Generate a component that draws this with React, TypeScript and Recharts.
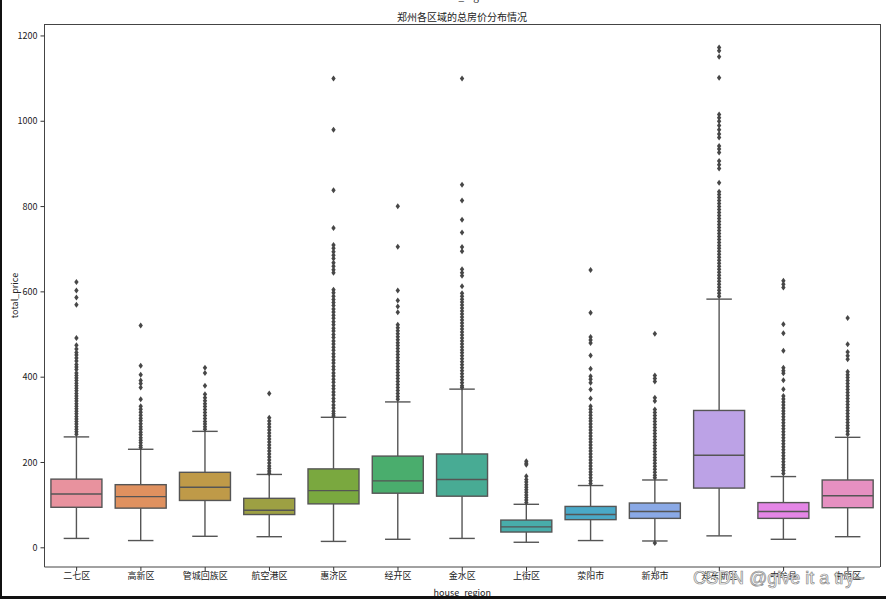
import { ComposedChart, Bar, XAxis, YAxis } from 'recharts';

const REGIONS = ['二七区', '高新区', '管城回族区', '航空港区', '惠济区', '经开区', '金水区', '上街区', '荥阳市', '新郑市', '郑东新区', '中牟县', '中原区'];
const WHISKER_LOW = [22, 17, 27, 26, 15, 20, 22, 13, 17, 16, 28, 20, 26];
const Q1 = [95, 93, 111, 78, 103, 128, 121, 37, 66, 69, 140, 69, 94];
const MEDIAN = [126, 120, 142, 88, 134, 157, 160, 49, 78, 85, 217, 85, 122];
const Q3 = [161, 148, 177, 116, 185, 215, 220, 65, 97, 105, 322, 106, 159];
const WHISKER_HIGH = [260, 231, 273, 172, 306, 342, 372, 102, 146, 159, 583, 167, 259];

const OUTLIERS: number[][] = [
  [623, 603, 587, 570, 492, 475, 466, 458, 452, 445, 438, 430, 424, 418, 410, 404, 398, 392, 386, 380, 374, 368, 362, 356, 350, 344, 338, 332, 326, 320, 314, 308, 302, 296, 290, 284, 278, 272, 266],
  [521, 427, 406, 392, 385, 376, 348, 332, 325, 318, 311, 304, 298, 291, 284, 278, 271, 265, 258, 252, 246, 240, 235],
  [422, 410, 380, 360, 352, 345, 338, 331, 324, 317, 310, 303, 296, 290, 284, 278],
  [362, 305, 297, 290, 283, 276, 269, 262, 255, 248, 241, 234, 227, 220, 213, 206, 199, 192, 186, 180, 175],
  [1100, 980, 838, 750, 710, 702, 694, 686, 678, 668, 660, 652, 645, 605, 598, 590, 582, 575, 568, 560, 553, 545, 538, 530, 523, 515, 508, 500, 493, 485, 478, 470, 463, 455, 448, 440, 433, 425, 418, 410, 403, 395, 388, 380, 373, 365, 358, 350, 343, 335, 328, 320, 314, 309],
  [801, 706, 603, 580, 566, 552, 523, 516, 509, 502, 495, 488, 481, 474, 467, 460, 453, 446, 439, 432, 425, 418, 411, 404, 397, 390, 383, 376, 369, 362, 355, 348],
  [1100, 851, 814, 769, 739, 705, 695, 653, 645, 638, 613, 597, 590, 583, 576, 569, 562, 555, 548, 541, 534, 527, 520, 513, 506, 499, 492, 485, 478, 471, 464, 457, 450, 443, 436, 429, 422, 415, 408, 401, 394, 387, 380, 376],
  [203, 198, 195, 168, 160, 154, 148, 142, 136, 130, 124, 118, 112, 106],
  [651, 551, 494, 487, 480, 451, 420, 402, 395, 387, 371, 350, 332, 325, 318, 311, 304, 297, 290, 283, 276, 269, 262, 255, 248, 241, 234, 227, 220, 213, 206, 199, 192, 185, 178, 171, 164, 157, 151],
  [11, 502, 404, 397, 390, 352, 344, 324, 317, 310, 303, 296, 289, 282, 275, 268, 261, 254, 247, 240, 233, 226, 219, 212, 205, 198, 191, 184, 177, 170, 164],
  [1173, 1165, 1151, 1102, 1016, 1008, 1000, 990, 980, 970, 962, 942, 935, 927, 907, 898, 889, 856, 835, 828, 821, 814, 807, 800, 793, 786, 779, 772, 765, 758, 751, 744, 737, 730, 723, 716, 709, 702, 695, 688, 681, 674, 667, 660, 653, 646, 639, 632, 625, 618, 611, 604, 597, 590],
  [626, 618, 610, 524, 503, 462, 422, 415, 409, 393, 372, 356, 349, 342, 335, 328, 321, 314, 307, 300, 293, 286, 279, 272, 265, 258, 251, 244, 237, 230, 223, 216, 209, 202, 195, 188, 181, 174],
  [539, 477, 459, 450, 442, 413, 406, 399, 392, 385, 378, 371, 364, 357, 350, 343, 336, 329, 322, 315, 308, 301, 294, 287, 280, 273, 266],
];

const Y_TICKS = [0, 200, 400, 600, 800, 1000, 1200];

const PALETTE = ['#e8929e', '#e0915f', '#bf9a48', '#9da043', '#7aa83f', '#4aad6d', '#48ab94', '#48adaa', '#4aa9c8', '#8aa9e6', '#bca2e6', '#e486e6', '#e690c1'];

const LINE = '#555555';
const FONT = '"Noto Sans CJK SC", "DejaVu Sans", sans-serif';

const data = REGIONS.map((region, i) => ({
  region,
  lo: WHISKER_LOW[i],
  q1: Q1[i],
  med: MEDIAN[i],
  q3: Q3[i],
  hi: WHISKER_HIGH[i],
  outliers: OUTLIERS[i],
  color: PALETTE[i],
}));

// draws box, whiskers, median and fliers inside the bar's pixel extent [lo, hi]
function BoxShape(props: any) {
  const { x, y, width, height, payload } = props;
  if (!payload) return null;
  const top = Math.min(y, y + height);
  const bottom = Math.max(y, y + height);
  const span = payload.hi - payload.lo;
  const py = (v: number) => bottom - ((v - payload.lo) / span) * (bottom - top);
  const cx = x + width / 2;
  const capHalf = width / 4;
  return (
    <g>
      <line x1={cx} x2={cx} y1={py(payload.hi)} y2={py(payload.q3)} stroke={LINE} strokeWidth={1.4} />
      <line x1={cx} x2={cx} y1={py(payload.q1)} y2={py(payload.lo)} stroke={LINE} strokeWidth={1.4} />
      <line x1={cx - capHalf} x2={cx + capHalf} y1={py(payload.hi)} y2={py(payload.hi)} stroke={LINE} strokeWidth={1.4} />
      <line x1={cx - capHalf} x2={cx + capHalf} y1={py(payload.lo)} y2={py(payload.lo)} stroke={LINE} strokeWidth={1.4} />
      <rect
        x={x}
        y={py(payload.q3)}
        width={width}
        height={py(payload.q1) - py(payload.q3)}
        fill={payload.color}
        stroke={LINE}
        strokeWidth={1.4}
      />
      <line x1={x} x2={x + width} y1={py(payload.med)} y2={py(payload.med)} stroke={LINE} strokeWidth={1.4} />
      {payload.outliers.map((v: number, k: number) => {
        const oy = py(v);
        return (
          <path
            key={k}
            d={`M${cx},${oy - 3}L${cx + 2.2},${oy}L${cx},${oy + 3}L${cx - 2.2},${oy}Z`}
            fill="#474747"
          />
        );
      })}
    </g>
  );
}

export default function App() {
  return (
    <div style={{ position: 'absolute', left: 0, top: 0, width: 886, height: 599, overflow: 'hidden', background: '#fff', fontFamily: FONT }}>
      <div style={{ position: 'absolute', left: 412, width: 100, top: -12, textAlign: 'center', fontSize: 10, color: '#333' }}>
        house_region
      </div>
      <div style={{ position: 'absolute', left: 312, width: 300, top: 9, textAlign: 'center', fontSize: 10, color: '#222' }}>
        郑州各区域的总房价分布情况
      </div>
      <ComposedChart
        width={886}
        height={599}
        data={data}
        margin={{ top: 24, right: 6, bottom: 0, left: 0 }}
        barCategoryGap="10%"
      >
        <XAxis
          dataKey="region"
          height={32}
          tickSize={4}
          tickMargin={2}
          tick={{ fill: '#222', fontSize: 9, fontFamily: FONT }}
          tickLine={{ stroke: '#333' }}
          axisLine={{ stroke: '#444' }}
          label={{ value: 'house_region', position: 'insideBottom', offset: 3, fill: '#222', fontSize: 9, fontFamily: FONT }}
        />
        <YAxis
          width={44.5}
          domain={[-45, 1228]}
          allowDataOverflow
          ticks={Y_TICKS}
          tickSize={4}
          tickMargin={3}
          tick={{ fill: '#222', fontSize: 9, fontFamily: FONT }}
          tickLine={{ stroke: '#333' }}
          axisLine={{ stroke: '#444' }}
          label={{ value: 'total_price', angle: -90, position: 'insideLeft', offset: 15, fill: '#222', fontSize: 9, fontFamily: FONT, style: { textAnchor: 'middle' } }}
        />
        <Bar
          dataKey={(d: any) => [d.lo, d.hi]}
          shape={<BoxShape />}
          isAnimationActive={false}
        />
      </ComposedChart>
      {/* top and right spines of the axes frame */}
      <div style={{ position: 'absolute', left: 44.5, top: 23.5, width: 835.5, height: 1, background: '#444', pointerEvents: 'none' }} />
      <div style={{ position: 'absolute', left: 879.5, top: 23.5, width: 1, height: 543.5, background: '#444', pointerEvents: 'none' }} />
      <div
        style={{
          position: 'absolute',
          left: 693,
          top: 568,
          fontFamily: '"Liberation Sans", Arial, sans-serif',
          fontSize: 18,
          color: '#ffffff',
          WebkitTextStroke: '0.7px #8a8a8a',
          whiteSpace: 'nowrap',
        }}
      >
        CSDN @give it a try~
      </div>
      <div style={{ position: 'absolute', left: 0, top: 0, width: 2, height: 599, background: '#111' }} />
      <div style={{ position: 'absolute', left: 0, top: 596, width: 886, height: 3, background: '#111' }} />
    </div>
  );
}
